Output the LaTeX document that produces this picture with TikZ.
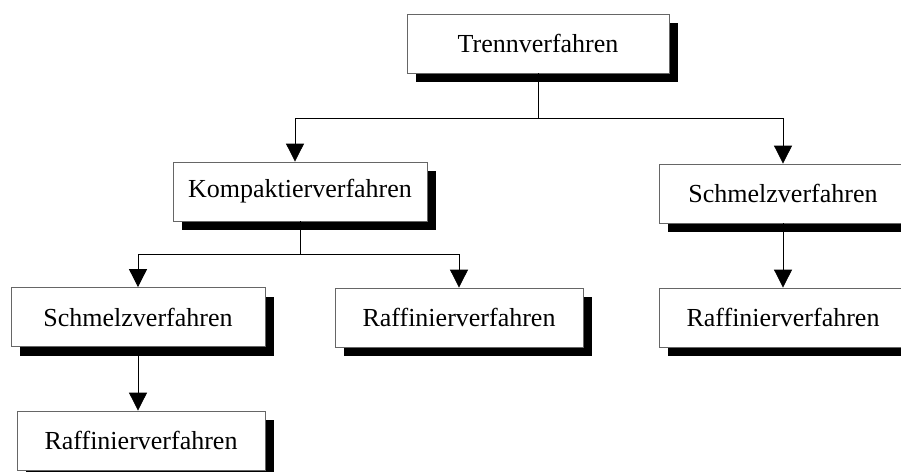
\documentclass[tikz,border=0pt]{standalone}
\usepackage{fontspec}
\setmainfont{Liberation Serif}
\usetikzlibrary{arrows.meta,shadows}
\begin{document}
\begin{tikzpicture}[
  x=1pt, y=-1pt,
  box/.style={draw=black!60, line width=0.8pt, fill=white, rectangle,
    minimum height=59pt, inner sep=0pt, font=\fontsize{26}{30}\selectfont,
    drop shadow={shadow xshift=9pt, shadow yshift=-9pt, fill=black, opacity=1}},
  link/.style={draw=black, line width=0.8pt},
  arrow/.style={link, -{Triangle[width=18pt,length=18pt]}}
]
\useasboundingbox (0,0) rectangle (901,471);

% boxes
\node[box, minimum width=262pt] (T)  at (538,43.5)  {Trennverfahren};
\node[box, minimum width=254pt] (K)  at (300,191.5) {Kompaktierverfahren};
\node[box, minimum width=248pt] (S2) at (783,193.5) {Schmelzverfahren};
\node[box, minimum width=254pt] (S1) at (138,317)   {Schmelzverfahren};
\node[box, minimum width=248pt] (R2) at (459,317.5) {Raffinierverfahren};
\node[box, minimum width=248pt] (R3) at (783,317.5) {Raffinierverfahren};
\node[box, minimum width=248pt] (R1) at (141,440.5) {Raffinierverfahren};

% branch points
\coordinate (tK) at (295,118);
\coordinate (kS) at (138,254);

% connectors
\draw[arrow] (T.south) |- (tK) -- (tK |- K.north);
\draw[arrow] (T.south) |- (S2.north |- tK) -- (S2.north);
\draw[arrow] (K.south) |- (kS) -- (S1.north);
\draw[arrow] (K.south) |- (R2.north |- kS) -- (R2.north);
\draw[arrow] (S1.south) -- (S1.south |- R1.north);
\draw[arrow] (S2.south) -- (R3.north);
\end{tikzpicture}
\end{document}
